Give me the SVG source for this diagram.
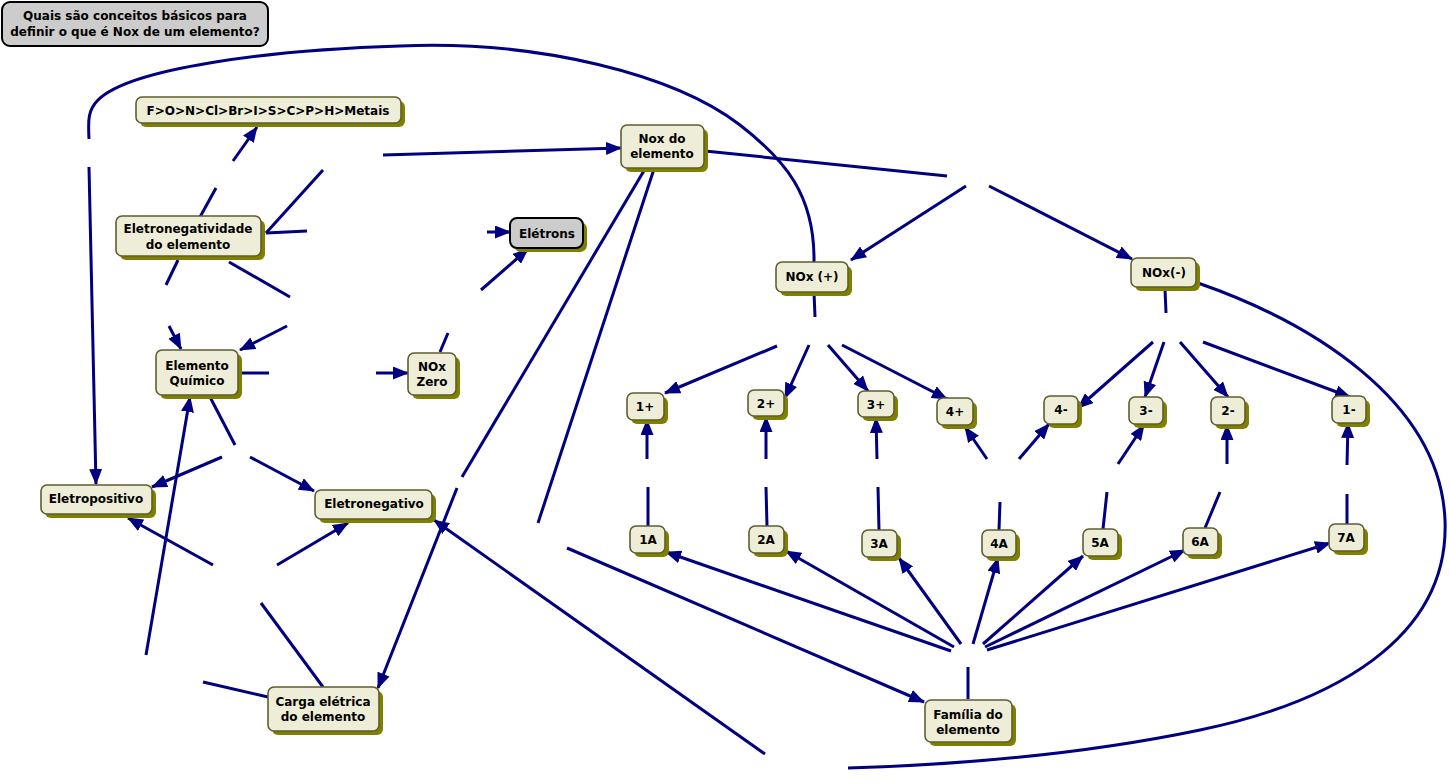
<svg xmlns="http://www.w3.org/2000/svg" width="1450" height="783" viewBox="0 0 1450 783">
<defs>
<marker id="ah" markerUnits="userSpaceOnUse" markerWidth="16" markerHeight="13" refX="15" refY="6.5" orient="auto">
<path d="M0,0 L16,6.5 L0,13 z" fill="#000080"/>
</marker>
<style>
.n rect.b{fill:#eeeed8;stroke:#5e5e2e;stroke-width:1.6}
.n rect.s{fill:#7f7f00}
.g rect.b{fill:#cccccc;stroke:#000;stroke-width:2}
text{font-family:"DejaVu Sans","Liberation Sans",sans-serif;font-weight:bold;font-size:12px;fill:#000;text-anchor:middle}
#conn line,#conn path{stroke:#000080;stroke-width:3;fill:none;stroke-linecap:butt}
.a{marker-end:url(#ah)}
</style>
</defs>
<rect width="1450" height="783" fill="#fff"/>

<g id="conn">
<line x1="200" y1="217" x2="216" y2="188"/>
<line class="a" x1="233" y1="161" x2="257" y2="127"/>
<line x1="266" y1="233" x2="307" y2="231"/>
<line class="a" x1="487" y1="232" x2="510" y2="232"/>
<line x1="266" y1="233" x2="323" y2="170"/>
<line class="a" x1="383" y1="155" x2="621" y2="148"/>
<line x1="178" y1="260" x2="166" y2="285"/>
<line class="a" x1="169" y1="326" x2="181" y2="349"/>
<line x1="229" y1="262" x2="290" y2="297"/>
<line class="a" x1="287" y1="326" x2="240" y2="350"/>
<line x1="238" y1="373" x2="269" y2="373"/>
<line class="a" x1="376" y1="373" x2="408" y2="373"/>
<line x1="440" y1="352" x2="448" y2="333"/>
<line class="a" x1="481" y1="290" x2="528" y2="249"/>
<line x1="210" y1="397" x2="235" y2="445"/>
<line class="a" x1="222" y1="457" x2="152" y2="487"/>
<line class="a" x1="250" y1="457" x2="314" y2="491"/>
<line x1="268" y1="697" x2="203" y2="682"/>
<line class="a" x1="146" y1="655" x2="190" y2="397"/>
<line x1="323" y1="687" x2="261" y2="603"/>
<line class="a" x1="213" y1="565" x2="128" y2="518"/>
<line class="a" x1="277" y1="565" x2="348" y2="523"/>
<line x1="645" y1="169" x2="462" y2="477"/>
<line class="a" x1="457" y1="488" x2="378" y2="688"/>
<line x1="654" y1="169" x2="538" y2="523"/>
<line class="a" x1="567" y1="548" x2="924" y2="702"/>
<line x1="705" y1="151" x2="947" y2="176"/>
<line class="a" x1="966" y1="186" x2="851" y2="260"/>
<line class="a" x1="989" y1="186" x2="1132" y2="259"/>
<path d="M814,262 C815,195 785,160 740,125 C675,75 540,40 400,46 C270,50 130,68 98,100 C88,110 88,120 89,139"/>
<line class="a" x1="89" y1="167" x2="96" y2="484"/>
<path d="M1198,283 C1310,322 1440,400 1445,520 C1450,640 1330,703 1200,730 C1080,755 950,765 848,768"/>
<line class="a" x1="765" y1="754" x2="434" y2="520"/>
<line x1="814" y1="292" x2="815" y2="317"/>
<line class="a" x1="777" y1="346" x2="665" y2="393"/>
<line class="a" x1="809" y1="345" x2="785" y2="398"/>
<line class="a" x1="828" y1="345" x2="868" y2="391"/>
<line class="a" x1="842" y1="345" x2="947" y2="399"/>
<line x1="1165" y1="289" x2="1166" y2="313"/>
<line class="a" x1="1153" y1="342" x2="1078" y2="408"/>
<line class="a" x1="1164" y1="342" x2="1145" y2="397"/>
<line class="a" x1="1180" y1="342" x2="1228" y2="397"/>
<line class="a" x1="1203" y1="342" x2="1350" y2="397"/>
<line x1="648" y1="526" x2="648" y2="487"/>
<line class="a" x1="647" y1="459" x2="647" y2="420"/>
<line x1="767" y1="526" x2="766" y2="487"/>
<line class="a" x1="766" y1="459" x2="766" y2="417"/>
<line x1="879" y1="530" x2="878" y2="487"/>
<line class="a" x1="877" y1="459" x2="876" y2="418"/>
<line x1="999" y1="530" x2="1000" y2="502"/>
<line class="a" x1="987" y1="459" x2="965" y2="427"/>
<line class="a" x1="1019" y1="459" x2="1049" y2="424"/>
<line x1="1103" y1="529" x2="1107" y2="492"/>
<line class="a" x1="1118" y1="464" x2="1144" y2="425"/>
<line x1="1205" y1="528" x2="1220" y2="492"/>
<line class="a" x1="1227" y1="464" x2="1227" y2="425"/>
<line x1="1347" y1="524" x2="1347" y2="494"/>
<line class="a" x1="1347" y1="465" x2="1348" y2="423"/>
<line x1="968" y1="699" x2="968" y2="667"/>
<line class="a" x1="951" y1="651" x2="666" y2="552"/>
<line class="a" x1="954" y1="647" x2="786" y2="551"/>
<line class="a" x1="961" y1="644" x2="899" y2="558"/>
<line class="a" x1="973" y1="644" x2="998" y2="558"/>
<line class="a" x1="983" y1="644" x2="1083" y2="556"/>
<line class="a" x1="985" y1="647" x2="1185" y2="550"/>
<line class="a" x1="987" y1="650" x2="1330" y2="543"/>
</g>

<g id="q" class="g">
<rect class="b" x="2" y="2" width="266" height="44" rx="8"/>
<text x="135" y="20">Quais são conceitos básicos para</text>
<text x="135" y="36">definir o que é Nox de um elemento?</text>
</g>
<g id="ordem" class="n">
<rect class="s" x="140" y="101" width="265" height="26" rx="6"/>
<rect class="b" x="136" y="97" width="265" height="26" rx="6"/>
<text x="268" y="115">F&gt;O&gt;N&gt;Cl&gt;Br&gt;I&gt;S&gt;C&gt;P&gt;H&gt;Metais</text>
</g>
<g id="eletroneg" class="n">
<rect class="s" x="120" y="220" width="145" height="40" rx="6"/>
<rect class="b" x="116" y="216" width="145" height="40" rx="6"/>
<text x="188" y="233">Eletronegatividade</text>
<text x="188" y="249">do elemento</text>
</g>
<g id="elemento" class="n">
<rect class="s" x="160" y="354" width="82" height="45" rx="6"/>
<rect class="b" x="156" y="350" width="82" height="45" rx="6"/>
<text x="197" y="370">Elemento</text>
<text x="197" y="385">Químico</text>
</g>
<g id="noxzero" class="n">
<rect class="s" x="412" y="357" width="48" height="42" rx="6"/>
<rect class="b" x="408" y="353" width="48" height="42" rx="6"/>
<text x="432" y="371">NOx</text>
<text x="432" y="386">Zero</text>
</g>
<g id="eletrons" class="g">
<rect x="514" y="222" width="73" height="30" rx="7" fill="#7f7f00"/>
<rect class="b" x="510" y="218" width="73" height="30" rx="7"/>
<text x="547" y="238">Elétrons</text>
</g>
<g id="noxdo" class="n">
<rect class="s" x="625" y="129" width="83" height="43" rx="6"/>
<rect class="b" x="621" y="125" width="83" height="43" rx="6"/>
<text x="662" y="143">Nox do</text>
<text x="662" y="158">elemento</text>
</g>
<g id="noxmais" class="n">
<rect class="s" x="780" y="266" width="72" height="30" rx="6"/>
<rect class="b" x="776" y="262" width="72" height="30" rx="6"/>
<text x="812" y="281">NOx (+)</text>
</g>
<g id="noxmenos" class="n">
<rect class="s" x="1135" y="262" width="65" height="29" rx="6"/>
<rect class="b" x="1131" y="258" width="65" height="29" rx="6"/>
<text x="1164" y="277">NOx(-)</text>
</g>
<g id="c1p" class="n">
<rect class="s" x="631" y="397" width="37" height="27" rx="6"/>
<rect class="b" x="627" y="393" width="37" height="27" rx="6"/>
<text x="645" y="411">1+</text>
</g>
<g id="c2p" class="n">
<rect class="s" x="752" y="394" width="36" height="26" rx="6"/>
<rect class="b" x="748" y="390" width="36" height="26" rx="6"/>
<text x="766" y="408">2+</text>
</g>
<g id="c3p" class="n">
<rect class="s" x="862" y="395" width="36" height="26" rx="6"/>
<rect class="b" x="858" y="391" width="36" height="26" rx="6"/>
<text x="876" y="409">3+</text>
</g>
<g id="c4p" class="n">
<rect class="s" x="941" y="402" width="36" height="27" rx="6"/>
<rect class="b" x="937" y="398" width="36" height="27" rx="6"/>
<text x="955" y="416">4+</text>
</g>
<g id="c4m" class="n">
<rect class="s" x="1048" y="400" width="34" height="28" rx="6"/>
<rect class="b" x="1044" y="396" width="34" height="28" rx="6"/>
<text x="1061" y="414">4-</text>
</g>
<g id="c3m" class="n">
<rect class="s" x="1133" y="401" width="34" height="27" rx="6"/>
<rect class="b" x="1129" y="397" width="34" height="27" rx="6"/>
<text x="1146" y="415">3-</text>
</g>
<g id="c2m" class="n">
<rect class="s" x="1215" y="401" width="34" height="28" rx="6"/>
<rect class="b" x="1211" y="397" width="34" height="28" rx="6"/>
<text x="1228" y="415">2-</text>
</g>
<g id="c1m" class="n">
<rect class="s" x="1336" y="400" width="34" height="27" rx="6"/>
<rect class="b" x="1332" y="396" width="34" height="27" rx="6"/>
<text x="1349" y="414">1-</text>
</g>
<g id="f1" class="n">
<rect class="s" x="634" y="530" width="35" height="27" rx="6"/>
<rect class="b" x="630" y="526" width="35" height="27" rx="6"/>
<text x="648" y="544">1A</text>
</g>
<g id="f2" class="n">
<rect class="s" x="753" y="530" width="35" height="27" rx="6"/>
<rect class="b" x="749" y="526" width="35" height="27" rx="6"/>
<text x="766" y="544">2A</text>
</g>
<g id="f3" class="n">
<rect class="s" x="866" y="534" width="35" height="27" rx="6"/>
<rect class="b" x="862" y="530" width="35" height="27" rx="6"/>
<text x="879" y="548">3A</text>
</g>
<g id="f4" class="n">
<rect class="s" x="986" y="534" width="34" height="27" rx="6"/>
<rect class="b" x="982" y="530" width="34" height="27" rx="6"/>
<text x="999" y="548">4A</text>
</g>
<g id="f5" class="n">
<rect class="s" x="1087" y="533" width="35" height="27" rx="6"/>
<rect class="b" x="1083" y="529" width="35" height="27" rx="6"/>
<text x="1100" y="547">5A</text>
</g>
<g id="f6" class="n">
<rect class="s" x="1187" y="532" width="35" height="27" rx="6"/>
<rect class="b" x="1183" y="528" width="35" height="27" rx="6"/>
<text x="1200" y="546">6A</text>
</g>
<g id="f7" class="n">
<rect class="s" x="1333" y="528" width="35" height="27" rx="6"/>
<rect class="b" x="1329" y="524" width="35" height="27" rx="6"/>
<text x="1346" y="542">7A</text>
</g>
<g id="eletropos" class="n">
<rect class="s" x="45" y="489" width="111" height="29" rx="6"/>
<rect class="b" x="41" y="485" width="111" height="29" rx="6"/>
<text x="96" y="503">Eletropositivo</text>
</g>
<g id="eletronegativo" class="n">
<rect class="s" x="319" y="494" width="117" height="29" rx="6"/>
<rect class="b" x="315" y="490" width="117" height="29" rx="6"/>
<text x="374" y="508">Eletronegativo</text>
</g>
<g id="carga" class="n">
<rect class="s" x="272" y="691" width="111" height="44" rx="6"/>
<rect class="b" x="268" y="687" width="111" height="44" rx="6"/>
<text x="323" y="706">Carga elétrica</text>
<text x="323" y="721">do elemento</text>
</g>
<g id="familia" class="n">
<rect class="s" x="929" y="704" width="87" height="42" rx="6"/>
<rect class="b" x="925" y="700" width="87" height="42" rx="6"/>
<text x="968" y="719">Família do</text>
<text x="968" y="734">elemento</text>
</g>
</svg>
